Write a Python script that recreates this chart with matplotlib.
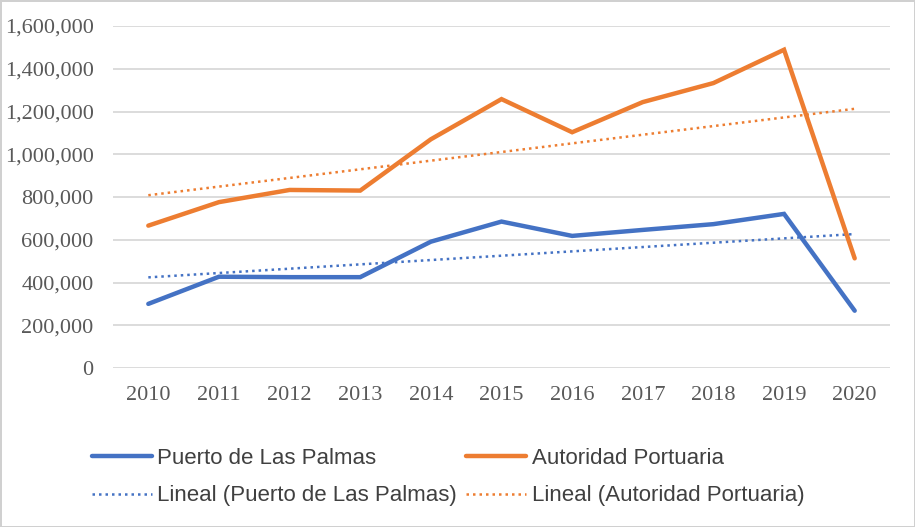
import numpy as np
import matplotlib
matplotlib.use("Agg")
import matplotlib.pyplot as plt
from matplotlib.ticker import FuncFormatter

years = [2010, 2011, 2012, 2013, 2014, 2015, 2016, 2017, 2018, 2019, 2020]
puerto = [300000, 427000, 425000, 425000, 591000, 685000, 618000, 646000, 673000, 721000, 268000]
autoridad = [666000, 776000, 833000, 830000, 1070000, 1258000, 1103000, 1244000, 1333000, 1489000, 513000]
yticks = [0, 200000, 400000, 600000, 800000, 1000000, 1200000, 1400000, 1600000]

blue = "#4472C4"
orange = "#ED7D31"

fig = plt.figure(figsize=(9.15, 5.27), dpi=100)
fig.patch.set_facecolor("white")
fig.patch.set_edgecolor("#D0D0D0")
fig.patch.set_linewidth(2)

ax = fig.add_axes([113/915, 1-368/527, (890-113)/915, (368-26)/527])

x = np.arange(len(years))
l1, = ax.plot(x, puerto, color=blue, lw=3.2, solid_capstyle="round", solid_joinstyle="miter", zorder=4)
l2, = ax.plot(x, autoridad, color=orange, lw=3.2, solid_capstyle="round", solid_joinstyle="miter", zorder=4)

pb = np.polyfit(x, puerto, 1)
po = np.polyfit(x, autoridad, 1)
l3, = ax.plot(x, np.polyval(pb, x), color=blue, lw=1.8, linestyle=(0, (1, 1.6)), zorder=3)
l4, = ax.plot(x, np.polyval(po, x), color=orange, lw=1.8, linestyle=(0, (1, 1.6)), zorder=3)

ax.set_xlim(-0.5, len(years) - 0.5)
ax.set_ylim(0, 1600000)
ax.set_yticks(yticks)
ax.yaxis.set_major_formatter(FuncFormatter(lambda v, p: f"{int(v):,}"))
ax.set_xticks(x)
ax.set_xticklabels([str(y) for y in years])
ax.grid(axis="y", color="#D9D9D9", lw=1.3)
ax.set_axisbelow(True)
for s in ax.spines.values():
    s.set_visible(False)
ax.tick_params(axis="y", length=0, labelsize=16, labelcolor="#595959", pad=14)
ax.tick_params(axis="x", length=0, labelsize=16, labelcolor="#595959", pad=13)
for lab in ax.get_xticklabels() + ax.get_yticklabels():
    lab.set_family("Liberation Serif")

leg = fig.legend([l1, l3, l2, l4],
                 ["Puerto de Las Palmas", "Lineal (Puerto de Las Palmas)",
                  "Autoridad Portuaria", "Lineal (Autoridad Portuaria)"],
                 ncol=2, loc="center left", bbox_to_anchor=(74/915, 1-477/527),
                 frameon=False, prop={"family": "Liberation Sans", "size": 16},
                 handlelength=2.7, handletextpad=0.25, columnspacing=0.4,
                 labelspacing=0.75, labelcolor="#404040", borderpad=0.3)

fig.savefig("out.png", dpi=100, facecolor=fig.get_facecolor(), edgecolor=fig.get_edgecolor())
